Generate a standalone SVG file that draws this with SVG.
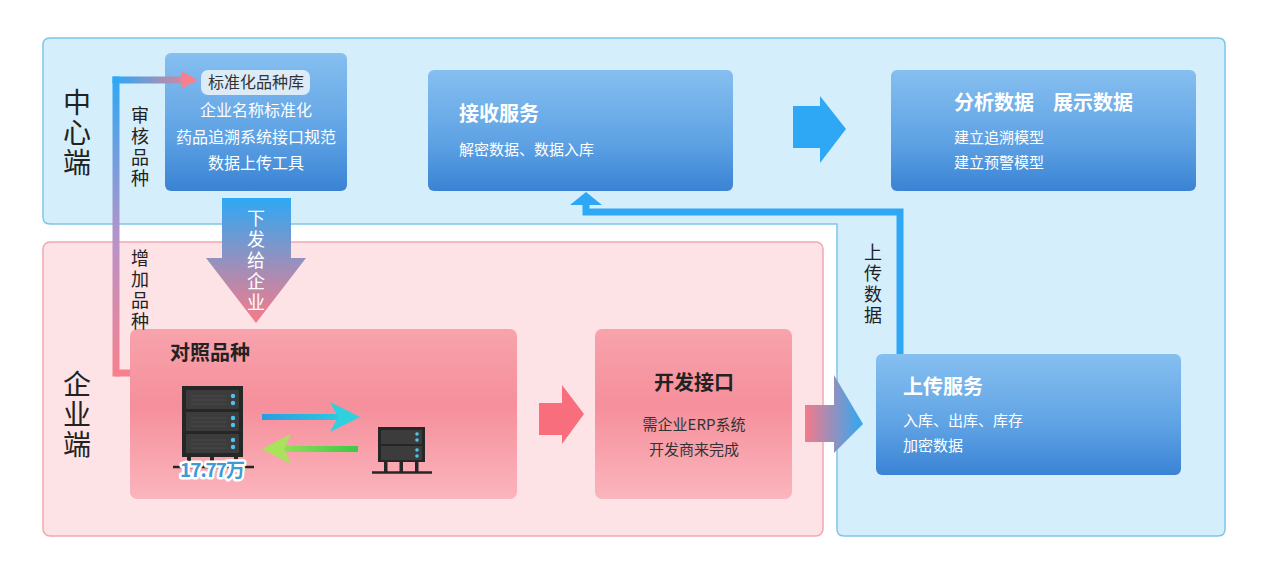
<svg xmlns="http://www.w3.org/2000/svg" width="1269" height="574" viewBox="0 0 1269 574">
<style>
text{font-family:"Noto Sans CJK SC","Noto Sans",sans-serif}
.region-b{fill:#d5eefb;stroke:#7cc6ea;stroke-width:1.5}
.region-p{fill:#fde3e6;stroke:#f2a7b1;stroke-width:1.5}
.bbox{fill:url(#gBlue)}
.pbox{fill:url(#gPink)}
.wt{fill:#ffffff;font-size:20px;font-weight:bold}
.ws{fill:#ffffff;font-size:15px}
.wm{fill:#ffffff;font-size:16px}
.dt{fill:#222;font-size:20px;font-weight:bold}
.ds{fill:#333;font-size:15px}
.vert{writing-mode:vertical-rl;text-orientation:upright}
.vl{fill:#222;font-size:18px;letter-spacing:3px}
.vw{fill:#ffffff;font-size:18px;letter-spacing:3px}
.big{fill:#222;font-size:28px;letter-spacing:2px}
</style>
<defs>
<linearGradient id="gBlue" x1="0" y1="0" x2="0" y2="1">
<stop offset="0" stop-color="#86bff0"/><stop offset="0.6" stop-color="#5ea2e4"/><stop offset="1" stop-color="#3a83d4"/>
</linearGradient>
<linearGradient id="gPink" x1="0" y1="0" x2="0" y2="1">
<stop offset="0" stop-color="#f8a3ac"/><stop offset="0.45" stop-color="#f58f9b"/><stop offset="1" stop-color="#fbb5bd"/>
</linearGradient>
<linearGradient id="gDown" x1="0" y1="198" x2="0" y2="323" gradientUnits="userSpaceOnUse">
<stop offset="0" stop-color="#2ea8f5"/><stop offset="1" stop-color="#f97a88"/>
</linearGradient>
<linearGradient id="gVert" x1="0" y1="78" x2="0" y2="375" gradientUnits="userSpaceOnUse">
<stop offset="0" stop-color="#2ea8f5"/><stop offset="0.55" stop-color="#b893c8"/><stop offset="1" stop-color="#f7808e"/>
</linearGradient>
<linearGradient id="gHor" x1="116" y1="0" x2="198" y2="0" gradientUnits="userSpaceOnUse">
<stop offset="0" stop-color="#2ea8f5"/><stop offset="1" stop-color="#f7808e"/>
</linearGradient>
<linearGradient id="gPB" x1="805" y1="0" x2="863" y2="0" gradientUnits="userSpaceOnUse">
<stop offset="0" stop-color="#f47a8a"/><stop offset="1" stop-color="#2ea8f5"/>
</linearGradient>
<linearGradient id="gCyan" x1="262" y1="0" x2="360" y2="0" gradientUnits="userSpaceOnUse">
<stop offset="0" stop-color="#2a9ce2"/><stop offset="1" stop-color="#2fd3df"/>
</linearGradient>
<linearGradient id="gGreen" x1="262" y1="0" x2="358" y2="0" gradientUnits="userSpaceOnUse">
<stop offset="0" stop-color="#a9e35c"/><stop offset="1" stop-color="#3cc848"/>
</linearGradient>
<g id="unit">
<rect x="0" y="0" width="53" height="19" rx="1" fill="#3c3c3c"/>
<line x1="5" y1="6" x2="40" y2="6" stroke="#4a4a4a" stroke-width="1"/>
<line x1="5" y1="10" x2="40" y2="10" stroke="#4a4a4a" stroke-width="1"/>
<line x1="5" y1="14" x2="40" y2="14" stroke="#4a4a4a" stroke-width="1"/>
<circle cx="47" cy="6" r="2.2" fill="#4fc3f0"/>
<circle cx="47" cy="13" r="2.2" fill="#4fc3f0"/>
</g>
</defs>

<!-- regions -->
<g id="region-center">
<path class="region-b" d="M50,38 H1218 Q1225,38 1225,45 V529 Q1225,536 1218,536 H844 Q837,536 837,529 V224 H50 Q43,224 43,217 V45 Q43,38 50,38 Z"/>
<text class="big vert" x="77" y="88">中心端</text>
</g>
<g id="region-enterprise">
<rect class="region-p" x="43" y="242" width="780" height="294" rx="7"/>
<text class="big vert" x="77" y="370">企业端</text>
</g>

<!-- nodes -->
<g id="node-standard">
<rect class="bbox" x="165" y="53" width="182" height="138" rx="6"/>
<rect x="201" y="70" width="109" height="25" rx="7" fill="#dcebf8"/>
<text x="256" y="88" fill="#333" font-size="16" text-anchor="middle">标准化品种库</text>
<text x="256" y="116" class="wm" text-anchor="middle">企业名称标准化</text>
<text x="256" y="143" class="wm" text-anchor="middle">药品追溯系统接口规范</text>
<text x="256" y="169" class="wm" text-anchor="middle">数据上传工具</text>
</g>

<g id="node-receive">
<rect class="bbox" x="428" y="70" width="305" height="121" rx="6"/>
<text x="459" y="121" class="wt">接收服务</text>
<text x="459" y="155" class="ws">解密数据、数据入库</text>
</g>

<g id="node-analyze">
<rect class="bbox" x="891" y="70" width="305" height="121" rx="6"/>
<text x="954" y="110" class="wt">分析数据</text>
<text x="1053" y="110" class="wt">展示数据</text>
<text x="954" y="143" class="ws">建立追溯模型</text>
<text x="954" y="168" class="ws">建立预警模型</text>
</g>

<g id="node-upload">
<rect class="bbox" x="876" y="354" width="305" height="121" rx="6"/>
<text x="903" y="394" class="wt">上传服务</text>
<text x="903" y="426" class="ws">入库、出库、库存</text>
<text x="903" y="451" class="ws">加密数据</text>
</g>

<g id="node-compare">
<rect class="pbox" x="130" y="329" width="387" height="170" rx="7"/>
<text x="170" y="360" class="dt">对照品种</text>
<!-- big server -->
<rect x="182" y="386" width="61" height="71" fill="#262626"/>
<use href="#unit" x="186" y="390"/>
<use href="#unit" x="186" y="412"/>
<use href="#unit" x="186" y="434"/>
<rect x="187" y="456" width="4" height="8" fill="#262626"/>
<rect x="210" y="456" width="4" height="8" fill="#262626"/>
<rect x="234" y="456" width="4" height="8" fill="#262626"/>
<line x1="173" y1="467" x2="254" y2="467" stroke="#262626" stroke-width="2.5"/>
<text x="212" y="477" font-size="19" font-weight="bold" fill="#3f9ad6" stroke="#ffffff" stroke-width="5" paint-order="stroke" stroke-linejoin="round" text-anchor="middle" letter-spacing="-1">17.77万</text>
<!-- arrows -->
<line x1="262" y1="417" x2="338" y2="417" stroke="url(#gCyan)" stroke-width="6"/>
<polygon points="330,402 360,417 330,432 338,417" fill="#2fd0df"/>
<line x1="282" y1="449" x2="358" y2="449" stroke="url(#gGreen)" stroke-width="6"/>
<polygon points="291,434 262,449 291,464 284,449" fill="#a9e35c"/>
<!-- small server -->
<rect x="378" y="427" width="47" height="35" fill="#262626"/>
<rect x="381" y="430" width="41" height="14" fill="#3c3c3c"/>
<rect x="381" y="446" width="41" height="14" fill="#3c3c3c"/>
<circle cx="417" cy="434" r="1.8" fill="#4fc3f0"/>
<circle cx="417" cy="440" r="1.8" fill="#4fc3f0"/>
<circle cx="417" cy="450" r="1.8" fill="#4fc3f0"/>
<circle cx="417" cy="456" r="1.8" fill="#4fc3f0"/>
<rect x="384" y="461" width="3.5" height="11" fill="#262626"/>
<rect x="399.5" y="461" width="3.5" height="11" fill="#262626"/>
<rect x="415" y="461" width="3.5" height="11" fill="#262626"/>
<line x1="372" y1="472.5" x2="432" y2="472.5" stroke="#262626" stroke-width="2.5"/>
</g>

<g id="node-interface">
<rect class="pbox" x="595" y="329" width="197" height="170" rx="7"/>
<text x="694" y="390" class="dt" text-anchor="middle">开发接口</text>
<text x="694" y="430" class="ds" text-anchor="middle">需企业ERP系统</text>
<text x="694" y="455" class="ds" text-anchor="middle">开发商来完成</text>
</g>

<!-- connectors -->
<g id="connectors">
<line x1="116" y1="373" x2="130" y2="373" stroke="#f7808e" stroke-width="7"/>
<line x1="116" y1="376.5" x2="116" y2="76.5" stroke="url(#gVert)" stroke-width="7"/>
<line x1="112.5" y1="80" x2="184" y2="80" stroke="url(#gHor)" stroke-width="7"/>
<polygon points="181,71 198,80 181,89" fill="#f7808e"/>

<polygon points="222,198 291,198 291,258 306,258 256,323 206,258 222,258" fill="url(#gDown)"/>

<polyline points="900,354 900,212 586,212 586,204" fill="none" stroke="#2ea8f5" stroke-width="7"/>
<polygon points="570,205 586,192 602,205" fill="#2ea8f5"/>

<polygon points="793,106 820,106 820,96 846,129 820,163 820,148 793,148" fill="#2ea8f5"/>

<polygon points="539,403 562,403 562,385 584,414 562,444 562,435 539,435" fill="#f86e7d"/>

<polygon points="805,405 834,405 834,375 863,424 834,453 834,442 805,442" fill="url(#gPB)"/>

<text class="vl vert" x="140" y="106">审核品种</text>
<text class="vl vert" x="140" y="249">增加品种</text>
<text class="vw vert" x="256" y="209">下发给企业</text>
<text class="vl vert" x="873" y="243">上传数据</text>
</g>
</svg>
